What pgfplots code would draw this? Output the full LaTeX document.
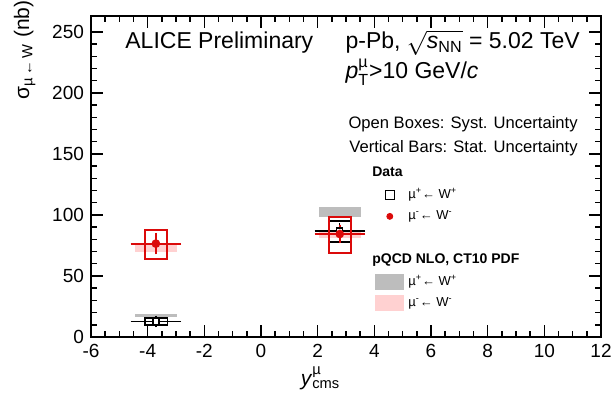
\documentclass[border=0pt]{standalone}
\usepackage{fontspec}
\setmainfont{Liberation Sans}
\usepackage{amsmath}
\usepackage{pgfplots}
\pgfplotsset{compat=1.18}
\definecolor{rootred}{rgb}{0.86,0.04,0.04}
\definecolor{theopink}{rgb}{1,0.82,0.82}
\definecolor{theogray}{rgb}{0.74,0.74,0.74}
\pgfplotsset{
  markleg/.style={legend image code/.code={\draw[mark repeat=2,mark phase=2,##1] plot coordinates {(0pt,0pt) (7.25pt,0pt) (14.5pt,0pt)};}},
  boxleg/.style={legend image code/.code={\fill[##1, draw=none] (0pt,-4pt) rectangle (14.5pt,4pt);}},
  emptyleg/.style={legend image code/.code={\path[draw=none, fill=none] (0pt,-3pt) rectangle (14.5pt,3pt);}},
}
\begin{document}
\begin{tikzpicture}
\useasboundingbox (-45.5pt,-27.5pt) rectangle (261.5pt,168.5pt);
\begin{axis}[
  at={(0,0)}, anchor=south west,
  scale only axis, width=255pt, height=160.5pt,
  xmin=-6, xmax=12, ymin=0, ymax=263,
  xtick={-6,-4,...,12}, ytick={0,50,...,250},
  minor x tick num=3, minor y tick num=4,
  tick align=inside, major tick length=6pt, minor tick length=3pt,
  axis line style={line width=0.9pt},
  every tick/.style={black, line width=0.7pt},
  ticklabel style={font=\fontsize{9.5}{10}\selectfont},
  /pgf/number format/assume math mode=true,
  xlabel={\textit{y}\(^{\text{µ}}_{\text{cms}}\)},
  ylabel={σ\(_{\text{µ\,←\,W}}\) (nb)},
  xlabel style={at={(axis description cs:0.45,-0.128)}, anchor=center, font=\fontsize{10.5}{12}\selectfont},
  ylabel style={at={(axis description cs:-0.13,0.894)}, anchor=center, rotate=0, font=\fontsize{10.5}{12}\selectfont},
  legend style={at={(axis cs:4.02,143)}, anchor=north west, draw=none, fill=none,
    font=\fontsize{6.5}{7.5}\selectfont, row sep=0.4pt, inner sep=0pt},
  legend cell align=left,
  clip=false,
]
% theory bands
\addplot[draw=none, fill=theogray, forget plot] coordinates {(2.03,98.5) (3.53,98.5) (3.53,106.5) (2.03,106.5)} -- cycle;
\addplot[draw=none, fill=theogray, forget plot] coordinates {(-4.46,16.8) (-2.96,16.8) (-2.96,19.0) (-4.46,19.0)} -- cycle;
\addplot[draw=none, fill=theopink, forget plot] coordinates {(2.03,81.0) (3.53,81.0) (3.53,86.0) (2.03,86.0)} -- cycle;
\addplot[draw=none, fill=theopink, forget plot] coordinates {(-4.46,70.0) (-2.96,70.0) (-2.96,76.5) (-4.46,76.5)} -- cycle;
% systematic boxes W+
\addplot[black, line width=0.7pt, forget plot] coordinates {(-4.10,9.8) (-3.31,9.8) (-3.31,15.6) (-4.10,15.6)} -- cycle;
\addplot[black, line width=0.7pt, forget plot] coordinates {(2.39,78.0) (3.18,78.0) (3.18,95.0) (2.39,95.0)} -- cycle;
% stat W+
\addplot[black, line width=0.7pt, only marks, mark=square*, mark size=1.5pt, mark options={fill=white}, forget plot,
  error bars/.cd, x dir=both, y dir=both, x explicit, y explicit, error mark options={mark size=2pt, line width=0.7pt}, error bar style={line width=0.7pt}]
  coordinates {(-3.71,12.7) +- (0.75,1.5) (2.78,87.0) +- (0.75,3.0)};
% systematic boxes W-
\addplot[rootred, line width=0.9pt, forget plot] coordinates {(-4.10,64.0) (-3.31,64.0) (-3.31,87.7) (-4.10,87.7)} -- cycle;
\addplot[rootred, line width=0.9pt, forget plot] coordinates {(2.39,68.9) (3.18,68.9) (3.18,98.4) (2.39,98.4)} -- cycle;
% stat W-
\addplot[rootred, line width=0.9pt, only marks, mark=*, mark size=1.7pt, forget plot,
  error bars/.cd, x dir=both, y dir=both, x explicit, y explicit, error mark options={rootred, mark size=2pt, line width=0.9pt}, error bar style={line width=0.9pt}]
  coordinates {(-3.71,76.5) +- (0.75,5.5) (2.78,84.4) +- (0.75,4.5)};
% legend
\addlegendimage{emptyleg}\addlegendentry{\hspace*{-18pt}\fontsize{7}{8}\selectfont\textbf{Data}}
\addlegendimage{markleg, black, only marks, mark=square*, mark size=2.3pt, mark options={fill=white, line width=0.6pt}}\addlegendentry{µ\textsuperscript{+}← W\textsuperscript{+}}
\addlegendimage{markleg, rootred, only marks, mark=*, mark size=1.5pt}\addlegendentry{µ\textsuperscript{-}← W\textsuperscript{-}}
\addlegendimage{emptyleg}\addlegendentry{\strut}
\addlegendimage{emptyleg}\addlegendentry{\hspace*{-18pt}\fontsize{7}{8}\selectfont\textbf{pQCD NLO, CT10 PDF}}
\addlegendimage{boxleg, fill=theogray}\addlegendentry{µ\textsuperscript{+}← W\textsuperscript{+}}
\addlegendimage{boxleg, fill=theopink}\addlegendentry{µ\textsuperscript{-}← W\textsuperscript{-}}
% texts
\node[anchor=west, inner sep=0pt, font=\fontsize{11.5}{13}\selectfont] at (axis cs:-4.8,241) {ALICE Preliminary};
\node[anchor=west, inner sep=0pt, font=\fontsize{11.5}{13}\selectfont] at (axis cs:2.97,241) {p-Pb, \(\sqrt{\text{\itshape s}_{\text{NN}}}\) = 5.02 TeV};
\node[anchor=west, inner sep=0pt, font=\fontsize{11.5}{13}\selectfont] at (axis cs:2.97,217) {\textit{p}\(^{\text{µ}}_{\text{T}}\)>10 GeV/\textit{c}};
\node[anchor=east, inner sep=0pt, font=\fontsize{8.3}{9}\selectfont] at (axis cs:11.19,174) {Open Boxes: Syst. Uncertainty};
\node[anchor=east, inner sep=0pt, font=\fontsize{8.3}{9}\selectfont] at (axis cs:11.19,155) {Vertical Bars: Stat. Uncertainty};
\end{axis}
\end{tikzpicture}
\end{document}
